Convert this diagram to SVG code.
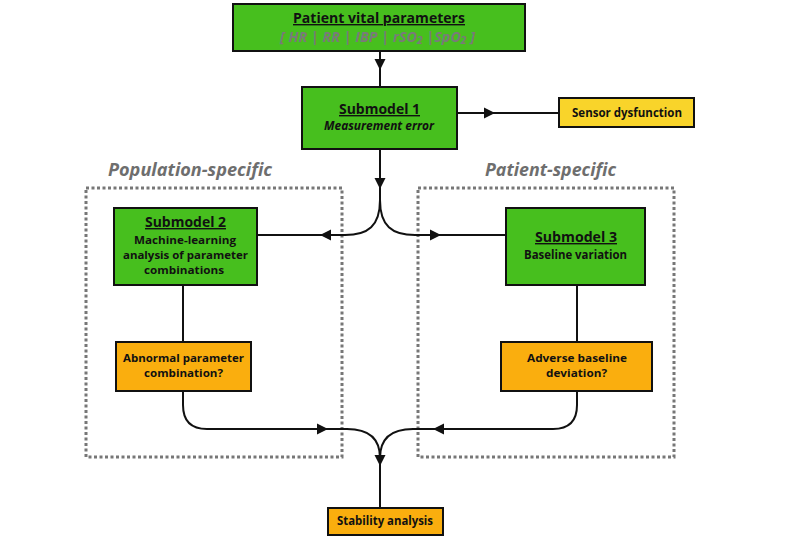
<svg xmlns="http://www.w3.org/2000/svg" width="785" height="538" viewBox="0 0 785 538">
<defs>
<style>
.box{stroke:#111;stroke-width:2}
.green{fill:#47BF1E}
.yellow{fill:#F9D42A}
.orange{fill:#FAAE0E}
.t{font-family:"Open Sans","Liberation Sans",sans-serif;font-weight:700;font-size:12px;fill:#111;text-anchor:middle}
.m{font-size:11px}
.title{font-size:14px;text-decoration:underline}
.sub{font-style:italic;fill:#7a7a7a;font-size:14px}
.grp{font-family:"Open Sans","Liberation Sans",sans-serif;font-weight:700;font-style:italic;font-size:17px;fill:#6e6e6e}
.dot{fill:none;stroke:#777;stroke-width:3;stroke-dasharray:3 2.5}
.c{fill:none;stroke:#111;stroke-width:2}
</style>
<path id="ah" d="M0,0 L-11,-5.5 L-11,5.5 Z" fill="#111"/>
</defs>

<g id="group-population">
<rect class="dot" x="86" y="188" width="256" height="269"/>
<text class="grp" x="108" y="176" textLength="164" lengthAdjust="spacingAndGlyphs">Population-specific</text>
</g>
<g id="group-patient">
<rect class="dot" x="418" y="188" width="256" height="269"/>
<text class="grp" x="485" y="176" textLength="131" lengthAdjust="spacingAndGlyphs">Patient-specific</text>
</g>

<g id="connectors">
<path class="c" d="M380,51 L380,87"/>
<path class="c" d="M457,113 L559,113"/>
<path class="c" d="M380,149 L380,200 C380,226 368,235 345,235 L257,235"/>
<path class="c" d="M380,200 C380,226 392,235 415,235 L506,235"/>
<path class="c" d="M183,285 L183,342"/>
<path class="c" d="M577,285 L577,342"/>
<path class="c" d="M183,391 L183,405 C183,422 192,429 207,429 L347,429 C370,429 380,440 380,458 L380,508"/>
<path class="c" d="M577,391 L577,405 C577,422 568,429 553,429 L413,429 C390,429 380,440 380,458"/>
<use href="#ah" transform="translate(380,70) rotate(90)"/>
<use href="#ah" transform="translate(495,113)"/>
<use href="#ah" transform="translate(380,189) rotate(90)"/>
<use href="#ah" transform="translate(320,235) rotate(180)"/>
<use href="#ah" transform="translate(441,235)"/>
<use href="#ah" transform="translate(328,429)"/>
<use href="#ah" transform="translate(433,429) rotate(180)"/>
<use href="#ah" transform="translate(380,466) rotate(90)"/>
</g>

<g id="patient-vital-parameters">
<rect class="box green" x="233" y="4" width="292" height="47"/>
<text class="t title" x="379" y="23" textLength="172" lengthAdjust="spacingAndGlyphs">Patient vital parameters</text>
<text class="t sub" x="377.5" y="42" textLength="195" lengthAdjust="spacingAndGlyphs">[ HR | RR | IBP | rSO<tspan font-size="10" dy="2">2</tspan><tspan dy="-2"> |SpO</tspan><tspan font-size="10" dy="2">2</tspan><tspan dy="-2"> ]</tspan></text>
</g>

<g id="submodel-1">
<rect class="box green" x="302" y="87" width="155" height="62"/>
<text class="t title" x="379.5" y="114" textLength="81" lengthAdjust="spacingAndGlyphs">Submodel 1</text>
<text class="t" x="379" y="130" font-style="italic" textLength="110" lengthAdjust="spacingAndGlyphs">Measurement error</text>
</g>

<g id="sensor-dysfunction">
<rect class="box yellow" x="559" y="98" width="135" height="29"/>
<text class="t" x="627" y="117" textLength="110" lengthAdjust="spacingAndGlyphs">Sensor dysfunction</text>
</g>

<g id="submodel-2">
<rect class="box green" x="114" y="208" width="143" height="77"/>
<text class="t title" x="185.5" y="227" textLength="81" lengthAdjust="spacingAndGlyphs">Submodel 2</text>
<text class="t m" x="185" y="244" textLength="102" lengthAdjust="spacingAndGlyphs">Machine-learning</text>
<text class="t m" x="185.5" y="259" textLength="125" lengthAdjust="spacingAndGlyphs">analysis of parameter</text>
<text class="t m" x="184" y="274" textLength="80" lengthAdjust="spacingAndGlyphs">combinations</text>
</g>

<g id="submodel-3">
<rect class="box green" x="506" y="208" width="139" height="77"/>
<text class="t title" x="576" y="242" textLength="82" lengthAdjust="spacingAndGlyphs">Submodel 3</text>
<text class="t" x="575.5" y="259" textLength="103" lengthAdjust="spacingAndGlyphs">Baseline variation</text>
</g>

<g id="abnormal-combination">
<rect class="box orange" x="116" y="342" width="135" height="49"/>
<text class="t m" x="183.5" y="362" textLength="121" lengthAdjust="spacingAndGlyphs">Abnormal parameter</text>
<text class="t m" x="183.5" y="377" textLength="79" lengthAdjust="spacingAndGlyphs">combination?</text>
</g>

<g id="adverse-deviation">
<rect class="box orange" x="501" y="342" width="151" height="49"/>
<text class="t m" x="577" y="362" textLength="100" lengthAdjust="spacingAndGlyphs">Adverse baseline</text>
<text class="t m" x="576.5" y="377" textLength="61" lengthAdjust="spacingAndGlyphs">deviation?</text>
</g>

<g id="stability-analysis">
<rect class="box orange" x="328" y="508" width="115" height="27"/>
<text class="t" x="385" y="525" textLength="96" lengthAdjust="spacingAndGlyphs">Stability analysis</text>
</g>
</svg>
